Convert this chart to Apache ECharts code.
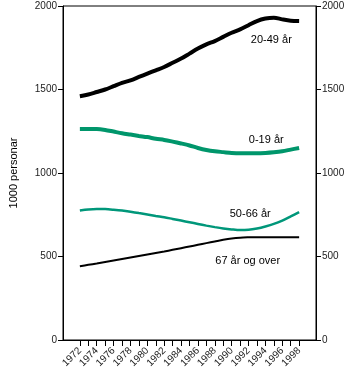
<!DOCTYPE html>
<html><head><meta charset="utf-8">
<script src="https://cdn.jsdelivr.net/npm/echarts@6/dist/echarts.min.js"></script>
<style>html,body{margin:0;padding:0;background:#fff}#c{width:350px;height:382px}</style>
</head><body><div id="c"></div>
<script>
var years = [1972,1973,1974,1975,1976,1977,1978,1979,1980,1981,1982,1983,1984,1985,1986,1987,1988,1989,1990,1991,1992,1993,1994,1995,1996,1997,1998];
var labelYears = [1972,1974,1976,1978,1980,1982,1984,1986,1988,1990,1992,1994,1996,1998];
var yTicks = [0,500,1000,1500,2000];
var age20_49 = [1460,1470,1485,1500,1520,1540,1555,1575,1595,1615,1635,1660,1685,1715,1745,1770,1790,1815,1840,1860,1885,1910,1925,1930,1920,1912,1910];
var age0_19 = [1263,1263,1263,1258,1248,1238,1230,1222,1215,1205,1198,1188,1177,1165,1150,1138,1130,1125,1120,1118,1118,1118,1120,1124,1130,1140,1150];
var age50_66 = [776,782,785,784,780,775,768,760,752,743,735,725,715,705,695,685,676,668,662,658,660,668,680,695,715,740,766];
var age67 = [442,450,458,467,476,485,494,503,512,521,530,540,550,560,570,580,590,600,608,613,615,616,616,616,615,615,615];
var seriesNames = ['20-49 år','0-19 år','50-66 år','67 år og over'];
var labelCoords = [[1994.7,1796],[1994.1,1200],[1992.2,755],[1991.9,472]];

function pairs(arr){ return years.map(function(y,i){ return [y, arr[i]]; }); }
function lbl(i){
  return { symbol:'circle', symbolSize:0, silent:true,
    label:{show:true, position:'inside', formatter:seriesNames[i], color:'#000', fontSize:11, fontFamily:'Liberation Sans'},
    data:[{coord:labelCoords[i]}] };
}
function plain(v){ return String(v); }
var font = 'Liberation Sans';
var chart = echarts.init(document.getElementById('c'), null, {renderer:'canvas'});
var yAxisCommon = {
  type:'value', min:0, max:2000, interval:500,
  axisLine:{show:true, lineStyle:{color:'#000', width:1}},
  axisTick:{show:true, length:5, inside:false, lineStyle:{color:'#000'}},
  axisLabel:{color:'#222', fontSize:10, fontFamily:font, margin:6, formatter:plain, customValues:yTicks},
  splitLine:{show:false}
};
chart.setOption({
  animation:false,
  grid:{left:57, right:34, top:6, bottom:42, show:true, borderColor:'#000', borderWidth:1, containLabel:false},
  xAxis:{type:'value', min:1970, max:2000,
    axisLine:{show:true, lineStyle:{color:'#000'}},
    axisTick:{show:true, length:6, customValues:years, lineStyle:{color:'#000'}},
    axisLabel:{customValues:labelYears, rotate:45, color:'#222', fontSize:10, fontFamily:font, margin:9, formatter:plain},
    splitLine:{show:false}},
  yAxis:[
    Object.assign({}, yAxisCommon, {position:'left', name:'1000 personar', nameLocation:'middle', nameGap:44,
      nameTextStyle:{color:'#000', fontSize:11, fontFamily:font}}),
    Object.assign({}, yAxisCommon, {position:'right'})
  ],
  series:[
    {name:seriesNames[0], type:'line', data:pairs(age20_49), smooth:0.3, showSymbol:false, lineStyle:{color:'#000', width:4}, markPoint:lbl(0)},
    {name:seriesNames[1], type:'line', data:pairs(age0_19), smooth:0.3, showSymbol:false, lineStyle:{color:'#00966b', width:4}, markPoint:lbl(1)},
    {name:seriesNames[2], type:'line', data:pairs(age50_66), smooth:0.3, showSymbol:false, lineStyle:{color:'#00977a', width:2.5}, markPoint:lbl(2)},
    {name:seriesNames[3], type:'line', data:pairs(age67), smooth:0.3, showSymbol:false, lineStyle:{color:'#000', width:2}, markPoint:lbl(3)}
  ]
});
</script></body></html>
